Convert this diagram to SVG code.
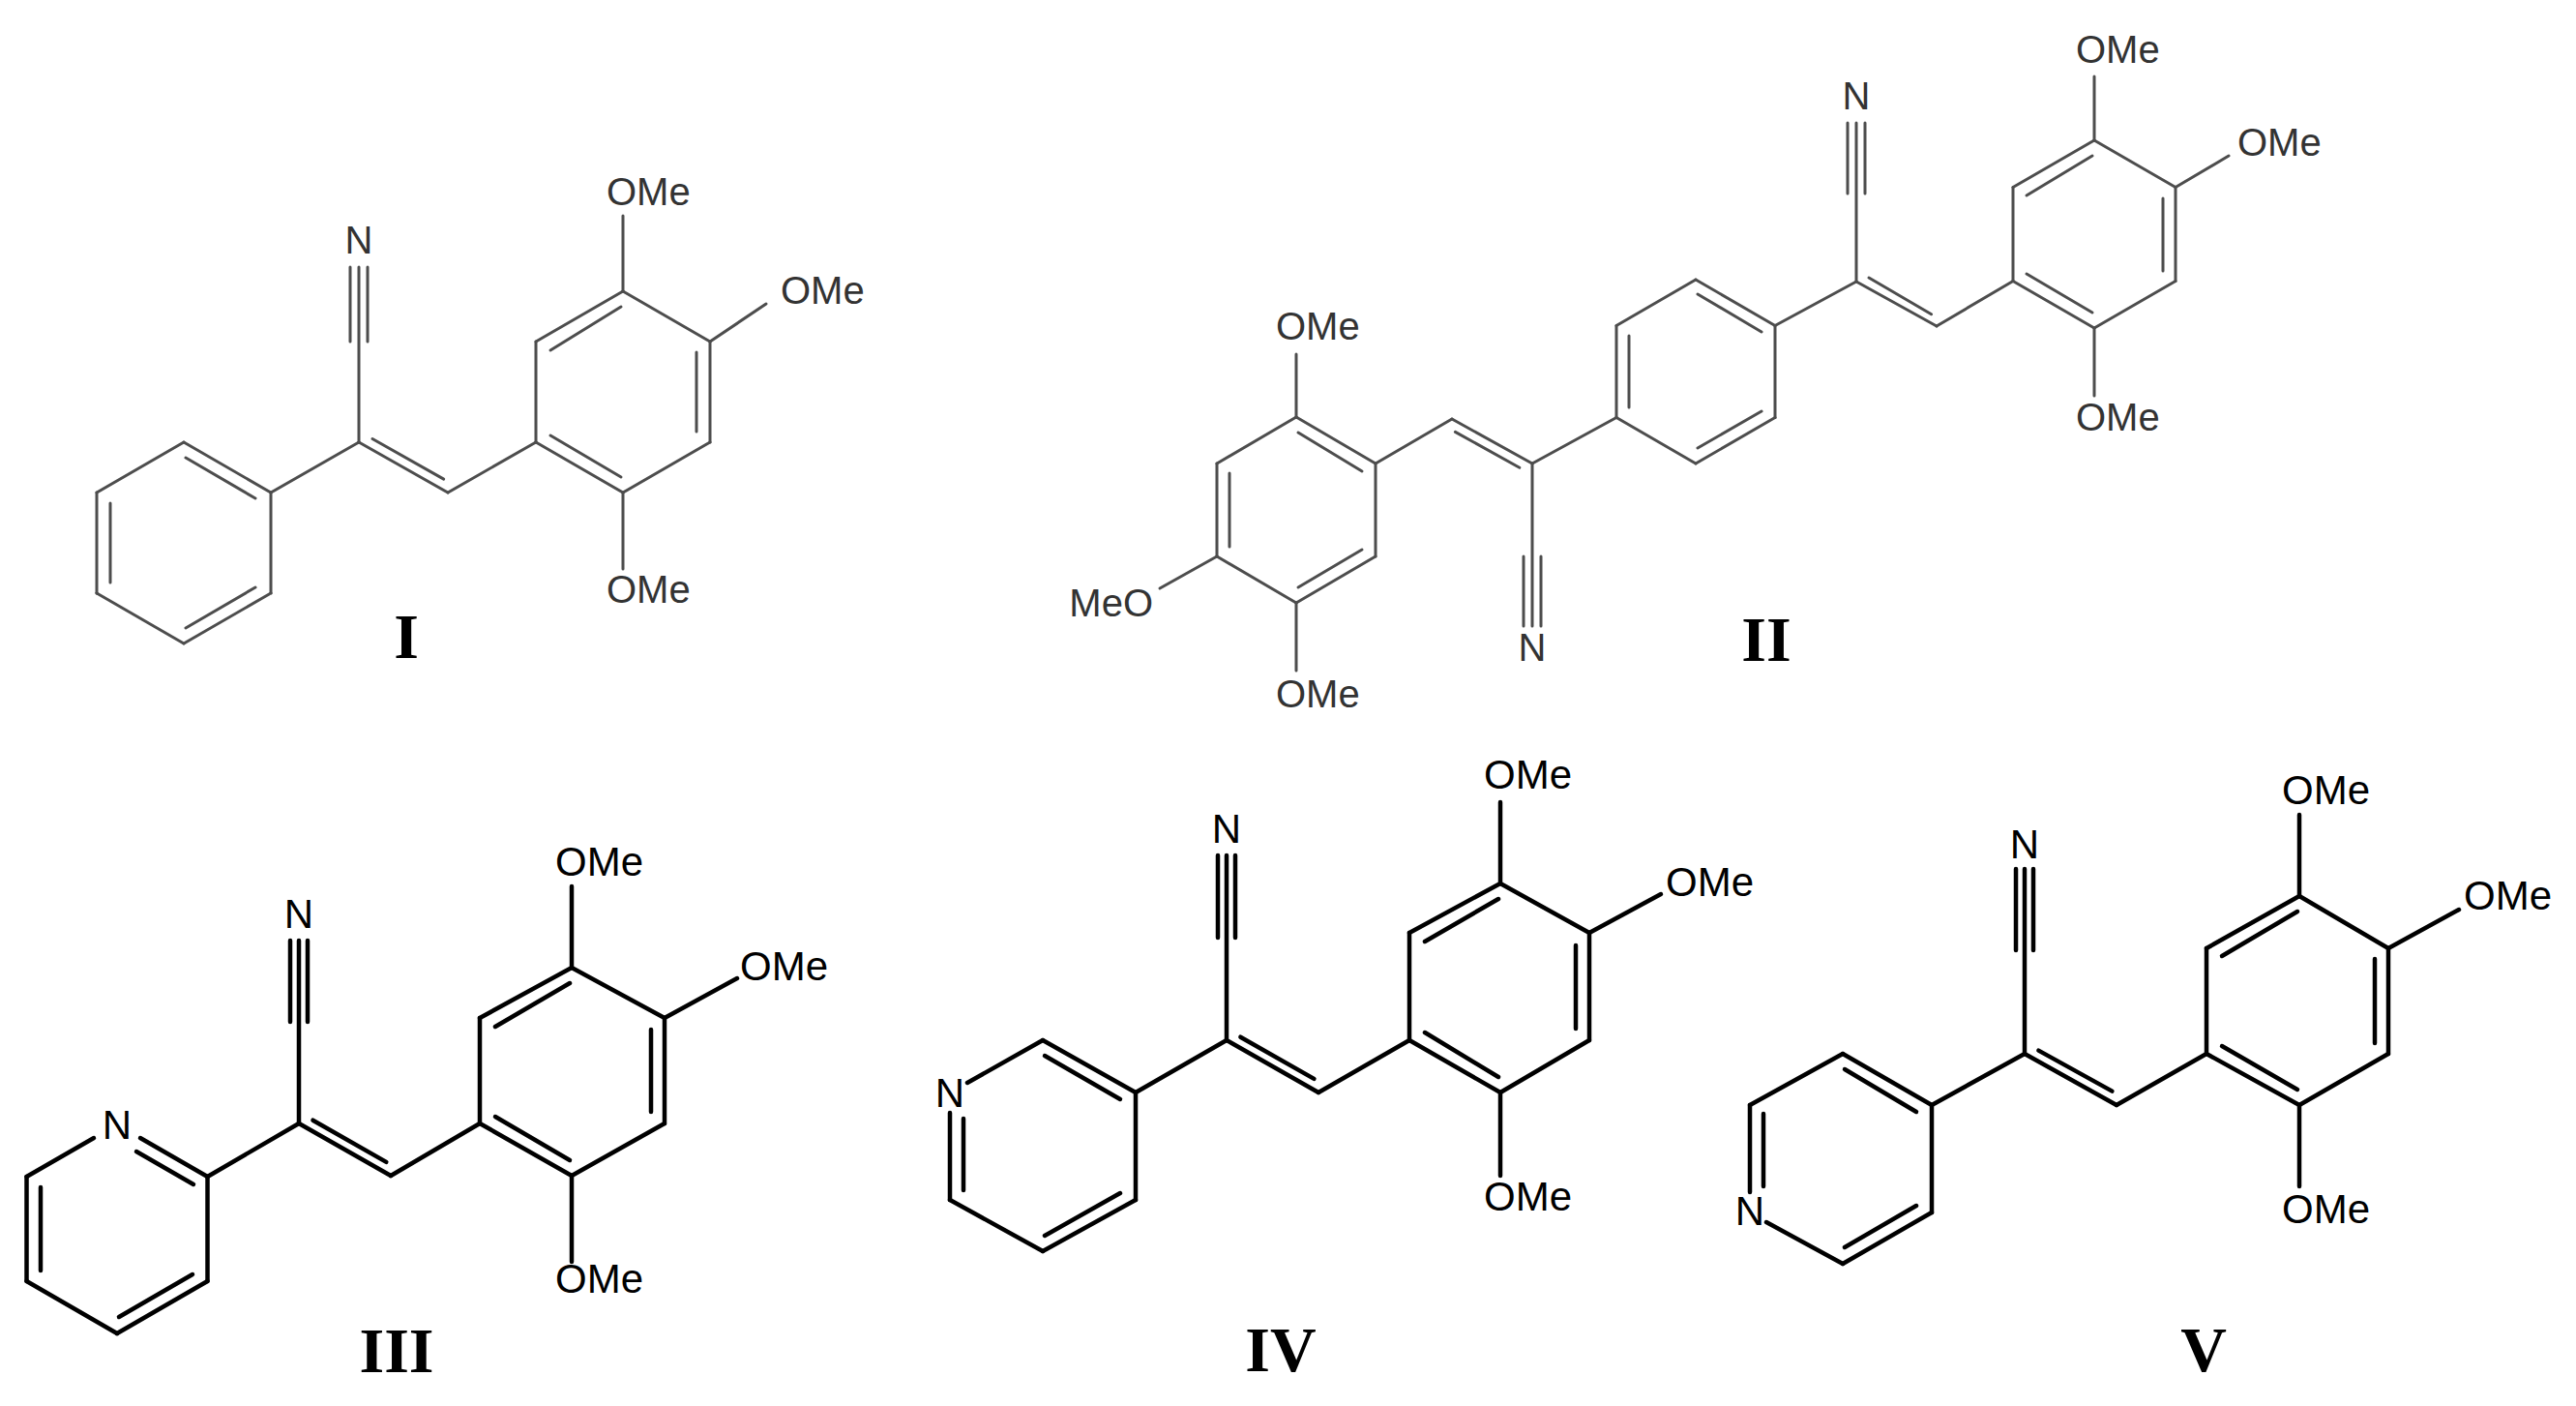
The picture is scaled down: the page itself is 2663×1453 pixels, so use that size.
<svg xmlns="http://www.w3.org/2000/svg" width="2663" height="1453" viewBox="0 0 2663 1453">
<style>
.g line{stroke:#4d4d4d;stroke-width:3;stroke-linecap:round}
.b line{stroke:#000;stroke-width:4.5;stroke-linecap:round}
.g text{fill:#333;font-family:"Liberation Sans",Arial,sans-serif;font-size:40px}
.b text{fill:#000;font-family:"Liberation Sans",Arial,sans-serif;font-size:42px}
text.lab{font-family:"Liberation Serif","Times New Roman",serif;font-weight:bold;font-size:66px;fill:#000;text-anchor:middle}
.m{text-anchor:middle}.e{text-anchor:end}
</style>
<rect width="2663" height="1453" fill="#fff"/>
<g id="molI" class="g">
<g id="molI-bonds">
<line x1="190" y1="457" x2="280" y2="509"/><line x1="280" y1="509" x2="280" y2="613"/><line x1="280" y1="613" x2="190" y2="665"/><line x1="190" y1="665" x2="100" y2="613"/><line x1="100" y1="613" x2="100" y2="509"/><line x1="100" y1="509" x2="190" y2="457"/>
<line x1="192" y1="473" x2="264" y2="515"/><line x1="114" y1="520" x2="114" y2="602"/><line x1="192" y1="649" x2="264" y2="607"/>
<line x1="280" y1="509" x2="371" y2="457"/><line x1="371" y1="457" x2="463" y2="509"/><line x1="385" y1="453.5" x2="458.7" y2="495.1"/>
<line x1="371" y1="457" x2="371" y2="276"/><line x1="362" y1="353" x2="362" y2="276"/><line x1="380" y1="353" x2="380" y2="276"/>
<line x1="463" y1="509" x2="554" y2="457"/>
<line x1="554" y1="457" x2="554" y2="353"/><line x1="554" y1="353" x2="644" y2="301"/><line x1="644" y1="301" x2="734" y2="353"/><line x1="734" y1="353" x2="734" y2="457"/><line x1="734" y1="457" x2="644" y2="509"/><line x1="644" y1="509" x2="554" y2="457"/>
<line x1="569" y1="362" x2="642" y2="317"/><line x1="720" y1="364" x2="720" y2="446"/><line x1="642" y1="493" x2="569" y2="450"/>
<line x1="644" y1="301" x2="644" y2="223"/><line x1="734" y1="353" x2="792" y2="314"/><line x1="644" y1="509" x2="644" y2="588"/>
</g>
<text x="371" y="262" class="m">N</text>
<text x="627" y="212">OMe</text><text x="807" y="314">OMe</text><text x="627" y="623">OMe</text>
<text x="420" y="680" class="lab">I</text>
</g>
<g id="molII" class="g">
<g id="molII-bonds">
<line x1="1753" y1="289" x2="1835" y2="336.5"/><line x1="1835" y1="336.5" x2="1835" y2="431.5"/><line x1="1835" y1="431.5" x2="1753" y2="479"/><line x1="1753" y1="479" x2="1671" y2="431.5"/><line x1="1671" y1="431.5" x2="1671" y2="336.5"/><line x1="1671" y1="336.5" x2="1753" y2="289"/>
<line x1="1755" y1="304" x2="1821" y2="343"/><line x1="1684" y1="347" x2="1684" y2="421"/><line x1="1821" y1="425" x2="1755" y2="463"/>
<line x1="1835" y1="336.5" x2="1919" y2="291"/><line x1="1919" y1="291" x2="2002" y2="337"/><line x1="1932" y1="287" x2="1996.6" y2="324.7"/>
<line x1="1919" y1="291" x2="1919" y2="127"/><line x1="1910" y1="200" x2="1910" y2="127"/><line x1="1928" y1="200" x2="1928" y2="127"/>
<line x1="2002" y1="337" x2="2081" y2="290.5"/>
<line x1="2081" y1="290.5" x2="2081" y2="193.5"/><line x1="2081" y1="193.5" x2="2165" y2="145"/><line x1="2165" y1="145" x2="2249" y2="193.5"/><line x1="2249" y1="193.5" x2="2249" y2="290.5"/><line x1="2249" y1="290.5" x2="2165" y2="339"/><line x1="2165" y1="339" x2="2081" y2="290.5"/>
<line x1="2095" y1="202" x2="2163" y2="161"/><line x1="2236" y1="205" x2="2236" y2="280"/><line x1="2163" y1="323" x2="2095" y2="283"/>
<line x1="2165" y1="145" x2="2165" y2="79"/><line x1="2249" y1="193.5" x2="2304" y2="161"/><line x1="2165" y1="339" x2="2165" y2="409"/>
<line x1="1671" y1="431.5" x2="1584" y2="479"/><line x1="1584" y1="479" x2="1501" y2="433"/><line x1="1504.4" y1="446.4" x2="1570.8" y2="483.2"/>
<line x1="1584" y1="479" x2="1584" y2="647"/><line x1="1575" y1="575" x2="1575" y2="647"/><line x1="1593" y1="575" x2="1593" y2="647"/>
<line x1="1501" y1="433" x2="1422" y2="479"/>
<line x1="1422" y1="479" x2="1340" y2="431"/><line x1="1340" y1="431" x2="1258" y2="479"/><line x1="1258" y1="479" x2="1258" y2="575"/><line x1="1258" y1="575" x2="1340" y2="623"/><line x1="1340" y1="623" x2="1422" y2="575"/><line x1="1422" y1="575" x2="1422" y2="479"/>
<line x1="1408" y1="487" x2="1342" y2="447"/><line x1="1271" y1="489" x2="1271" y2="565"/><line x1="1342" y1="607" x2="1408" y2="568"/>
<line x1="1340" y1="431" x2="1340" y2="366"/><line x1="1258" y1="575" x2="1199" y2="608"/><line x1="1340" y1="623" x2="1340" y2="693"/>
</g>
<text x="1919" y="113" class="m">N</text><text x="1584" y="683" class="m">N</text>
<text x="2146" y="65">OMe</text><text x="2313" y="161">OMe</text><text x="2146" y="445">OMe</text>
<text x="1319" y="351">OMe</text><text x="1192" y="637" class="e">MeO</text><text x="1319" y="731">OMe</text>
<text x="1826" y="683" class="lab">II</text>
</g>
<g id="molIII" class="b">
<g id="molIII-bonds">
<line x1="145" y1="1176" x2="214.5" y2="1216"/><line x1="214.5" y1="1216" x2="214.5" y2="1324"/><line x1="214.5" y1="1324" x2="121" y2="1378"/><line x1="121" y1="1378" x2="27.5" y2="1324"/><line x1="27.5" y1="1324" x2="27.5" y2="1216"/><line x1="27.5" y1="1216" x2="97" y2="1176"/>
<line x1="141" y1="1190" x2="200" y2="1224"/><line x1="42" y1="1227" x2="42" y2="1313"/><line x1="123" y1="1361" x2="199" y2="1317"/>
<line x1="214.5" y1="1216" x2="309" y2="1161"/><line x1="309" y1="1161" x2="404" y2="1215"/><line x1="323.5" y1="1157.7" x2="399.3" y2="1200.9"/>
<line x1="309" y1="1161" x2="309" y2="972"/><line x1="300" y1="1056" x2="300" y2="972"/><line x1="318" y1="1056" x2="318" y2="972"/>
<line x1="404" y1="1215" x2="496" y2="1161"/>
<line x1="496" y1="1161" x2="496" y2="1052"/><line x1="496" y1="1052" x2="591" y2="1000"/><line x1="591" y1="1000" x2="687" y2="1052"/><line x1="687" y1="1052" x2="687" y2="1161"/><line x1="687" y1="1161" x2="591" y2="1215"/><line x1="591" y1="1215" x2="496" y2="1161"/>
<line x1="512" y1="1061" x2="589" y2="1016"/><line x1="673" y1="1064" x2="673" y2="1149"/><line x1="589" y1="1199" x2="512" y2="1154"/>
<line x1="591" y1="1000" x2="591" y2="916"/><line x1="687" y1="1052" x2="762" y2="1011"/><line x1="591" y1="1215" x2="591" y2="1304"/>
</g>
<text x="121" y="1177" class="m">N</text><text x="309" y="959" class="m">N</text>
<text x="574" y="905">OMe</text><text x="765" y="1013">OMe</text><text x="574" y="1336">OMe</text>
<text x="410" y="1418" class="lab">III</text>
</g>
<g id="molIV" class="b">
<g id="molIV-bonds">
<line x1="1174" y1="1129" x2="1078" y2="1075"/><line x1="1078" y1="1075" x2="1000" y2="1119"/><line x1="982" y1="1150" x2="982" y2="1240"/><line x1="982" y1="1240" x2="1078" y2="1293"/><line x1="1078" y1="1293" x2="1174" y2="1240"/><line x1="1174" y1="1240" x2="1174" y2="1129"/>
<line x1="1080" y1="1091" x2="1158" y2="1136"/><line x1="996" y1="1156" x2="996" y2="1230"/><line x1="1080" y1="1277" x2="1158" y2="1233"/>
<line x1="1174" y1="1129" x2="1268" y2="1075"/><line x1="1268" y1="1075" x2="1363" y2="1129"/><line x1="1282.4" y1="1071.7" x2="1358.4" y2="1114.9"/>
<line x1="1268" y1="1075" x2="1268" y2="884"/><line x1="1259" y1="969" x2="1259" y2="884"/><line x1="1277" y1="969" x2="1277" y2="884"/>
<line x1="1363" y1="1129" x2="1457" y2="1075"/>
<line x1="1457" y1="1075" x2="1457" y2="964"/><line x1="1457" y1="964" x2="1551" y2="913"/><line x1="1551" y1="913" x2="1643" y2="964"/><line x1="1643" y1="964" x2="1643" y2="1075"/><line x1="1643" y1="1075" x2="1551" y2="1129"/><line x1="1551" y1="1129" x2="1457" y2="1075"/>
<line x1="1473" y1="973" x2="1549" y2="929"/><line x1="1629" y1="977" x2="1629" y2="1063"/><line x1="1549" y1="1113" x2="1473" y2="1067"/>
<line x1="1551" y1="913" x2="1551" y2="829"/><line x1="1643" y1="964" x2="1717" y2="924"/><line x1="1551" y1="1129" x2="1551" y2="1215"/>
</g>
<text x="982" y="1144" class="m">N</text><text x="1268" y="871" class="m">N</text>
<text x="1534" y="815">OMe</text><text x="1722" y="926">OMe</text><text x="1534" y="1251">OMe</text>
<text x="1324" y="1417" class="lab">IV</text>
</g>
<g id="molV" class="b">
<g id="molV-bonds">
<line x1="1997" y1="1142" x2="1905" y2="1089"/><line x1="1905" y1="1089" x2="1809" y2="1142"/><line x1="1809" y1="1142" x2="1809" y2="1232"/><line x1="1826" y1="1263" x2="1905" y2="1306"/><line x1="1905" y1="1306" x2="1997" y2="1253"/><line x1="1997" y1="1253" x2="1997" y2="1142"/>
<line x1="1907" y1="1105" x2="1981" y2="1149"/><line x1="1823" y1="1151" x2="1823" y2="1226"/><line x1="1907" y1="1289" x2="1981" y2="1246"/>
<line x1="1997" y1="1142" x2="2093" y2="1089"/><line x1="2093" y1="1089" x2="2188" y2="1142"/><line x1="2107.4" y1="1085.6" x2="2183.4" y2="1127.6"/>
<line x1="2093" y1="1089" x2="2093" y2="898"/><line x1="2084" y1="982" x2="2084" y2="898"/><line x1="2102" y1="982" x2="2102" y2="898"/>
<line x1="2188" y1="1142" x2="2281" y2="1089"/>
<line x1="2281" y1="1089" x2="2281" y2="980"/><line x1="2281" y1="980" x2="2377" y2="926"/><line x1="2377" y1="926" x2="2469" y2="980"/><line x1="2469" y1="980" x2="2469" y2="1089"/><line x1="2469" y1="1089" x2="2377" y2="1142"/><line x1="2377" y1="1142" x2="2281" y2="1089"/>
<line x1="2297" y1="988" x2="2375" y2="942"/><line x1="2455" y1="991" x2="2455" y2="1078"/><line x1="2375" y1="1126" x2="2297" y2="1081"/>
<line x1="2377" y1="926" x2="2377" y2="842"/><line x1="2469" y1="980" x2="2542" y2="940"/><line x1="2377" y1="1142" x2="2377" y2="1226"/>
</g>
<text x="1809" y="1266" class="m">N</text><text x="2093" y="887" class="m">N</text>
<text x="2359" y="831">OMe</text><text x="2547" y="940">OMe</text><text x="2359" y="1264">OMe</text>
<text x="2278" y="1417" class="lab">V</text>
</g>
</svg>
